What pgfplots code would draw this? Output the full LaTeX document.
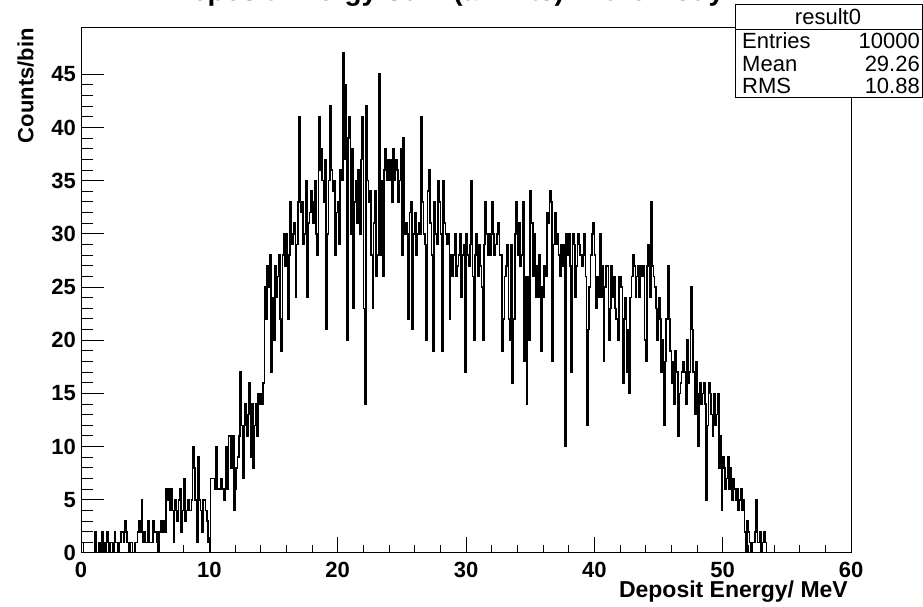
\documentclass[border=0pt]{standalone}
\usepackage{pgfplots}
\pgfplotsset{compat=1.18}
\usepackage{pgfplotstable}
\usepackage{fontspec}
\setmainfont{Liberation Sans}

% counts per 0.1 MeV bin, one line per MeV (0.0 ... 53.9), last entry closes the outline
\pgfplotstableread[row sep=\\, header=false]{
1\\ 1\\ 0\\ 0\\ 0\\ 0\\ 0\\ 0\\ 0\\ 0\\
0\\ 2\\ 0\\ 0\\ 1\\ 0\\ 2\\ 0\\ 1\\ 0\\
2\\ 1\\ 0\\ 1\\ 1\\ 0\\ 2\\ 1\\ 1\\ 0\\
1\\ 2\\ 2\\ 1\\ 3\\ 2\\ 1\\ 0\\ 1\\ 1\\
0\\ 0\\ 1\\ 1\\ 2\\ 3\\ 2\\ 5\\ 1\\ 2\\
1\\ 1\\ 3\\ 1\\ 1\\ 1\\ 3\\ 2\\ 2\\ 1\\
0\\ 2\\ 3\\ 2\\ 3\\ 2\\ 6\\ 5\\ 6\\ 4\\
6\\ 4\\ 1\\ 5\\ 4\\ 3\\ 5\\ 6\\ 2\\ 4\\
7\\ 3\\ 4\\ 5\\ 4\\ 4\\ 5\\ 10\\ 8\\ 5\\
1\\ 9\\ 5\\ 4\\ 2\\ 5\\ 5\\ 4\\ 3\\ 1\\
0\\ 7\\ 7\\ 7\\ 6\\ 10\\ 6\\ 6\\ 6\\ 7\\
6\\ 5\\ 6\\ 10\\ 6\\ 11\\ 11\\ 8\\ 11\\ 4\\
6\\ 8\\ 9\\ 11\\ 17\\ 12\\ 7\\ 12\\ 14\\ 11\\
13\\ 16\\ 9\\ 14\\ 8\\ 12\\ 14\\ 11\\ 15\\ 14\\
15\\ 14\\ 16\\ 25\\ 22\\ 27\\ 25\\ 28\\ 17\\ 24\\
20\\ 27\\ 24\\ 26\\ 28\\ 22\\ 19\\ 28\\ 30\\ 27\\
30\\ 22\\ 28\\ 33\\ 29\\ 30\\ 31\\ 24\\ 29\\ 33\\
41\\ 32\\ 33\\ 29\\ 30\\ 35\\ 24\\ 31\\ 32\\ 34\\
33\\ 31\\ 35\\ 30\\ 28\\ 41\\ 36\\ 38\\ 35\\ 33\\
37\\ 21\\ 30\\ 35\\ 42\\ 36\\ 34\\ 35\\ 28\\ 32\\
33\\ 29\\ 36\\ 35\\ 47\\ 37\\ 44\\ 20\\ 39\\ 41\\
30\\ 38\\ 23\\ 33\\ 35\\ 31\\ 36\\ 30\\ 37\\ 41\\
23\\ 14\\ 42\\ 35\\ 33\\ 34\\ 28\\ 23\\ 31\\ 34\\
26\\ 28\\ 45\\ 28\\ 35\\ 26\\ 36\\ 38\\ 35\\ 37\\
35\\ 37\\ 33\\ 38\\ 35\\ 37\\ 36\\ 33\\ 35\\ 38\\
28\\ 39\\ 30\\ 31\\ 30\\ 22\\ 32\\ 33\\ 21\\ 30\\
32\\ 28\\ 30\\ 31\\ 30\\ 41\\ 33\\ 30\\ 29\\ 20\\
34\\ 36\\ 31\\ 28\\ 19\\ 33\\ 30\\ 29\\ 35\\ 33\\
30\\ 19\\ 35\\ 31\\ 30\\ 29\\ 30\\ 22\\ 28\\ 26\\
28\\ 30\\ 26\\ 27\\ 28\\ 30\\ 24\\ 28\\ 29\\ 17\\
30\\ 28\\ 27\\ 29\\ 35\\ 26\\ 20\\ 28\\ 30\\ 26\\
29\\ 27\\ 25\\ 20\\ 29\\ 33\\ 30\\ 28\\ 30\\ 28\\
33\\ 30\\ 28\\ 29\\ 30\\ 31\\ 28\\ 28\\ 19\\ 22\\
26\\ 27\\ 29\\ 22\\ 20\\ 29\\ 16\\ 22\\ 30\\ 33\\
28\\ 31\\ 27\\ 28\\ 33\\ 18\\ 26\\ 14\\ 26\\ 20\\
34\\ 31\\ 26\\ 30\\ 24\\ 27\\ 24\\ 28\\ 19\\ 25\\
24\\ 27\\ 26\\ 32\\ 31\\ 34\\ 33\\ 18\\ 29\\ 32\\
29\\ 30\\ 28\\ 26\\ 29\\ 27\\ 29\\ 10\\ 30\\ 28\\
30\\ 27\\ 17\\ 30\\ 29\\ 24\\ 27\\ 30\\ 29\\ 28\\
27\\ 28\\ 30\\ 26\\ 12\\ 21\\ 25\\ 28\\ 30\\ 31\\
28\\ 23\\ 26\\ 24\\ 30\\ 24\\ 27\\ 18\\ 25\\ 27\\
27\\ 20\\ 23\\ 27\\ 24\\ 26\\ 23\\ 22\\ 20\\ 26\\
26\\ 25\\ 16\\ 22\\ 24\\ 17\\ 21\\ 15\\ 24\\ 26\\
28\\ 27\\ 24\\ 26\\ 27\\ 24\\ 27\\ 26\\ 27\\ 20\\
18\\ 27\\ 29\\ 24\\ 33\\ 27\\ 26\\ 25\\ 23\\ 20\\
24\\ 22\\ 17\\ 20\\ 12\\ 18\\ 22\\ 27\\ 22\\ 19\\
16\\ 18\\ 14\\ 19\\ 17\\ 11\\ 15\\ 16\\ 17\\ 18\\
17\\ 14\\ 20\\ 16\\ 17\\ 25\\ 21\\ 17\\ 13\\ 18\\
15\\ 10\\ 16\\ 14\\ 15\\ 16\\ 14\\ 5\\ 12\\ 16\\
15\\ 13\\ 11\\ 15\\ 12\\ 13\\ 15\\ 8\\ 11\\ 4\\
9\\ 8\\ 6\\ 7\\ 9\\ 6\\ 8\\ 5\\ 7\\ 6\\
5\\ 6\\ 4\\ 5\\ 6\\ 4\\ 5\\ 2\\ 0\\ 3\\
2\\ 1\\ 0\\ 1\\ 1\\ 2\\ 5\\ 1\\ 1\\ 2\\
0\\ 1\\ 2\\ 1\\ 0\\ 0\\ 0\\ 0\\ 0\\ 0\\
0\\
}\counts

\begin{document}
\begin{tikzpicture}
\useasboundingbox (0pt,0pt) rectangle (923pt,607pt);
\begin{axis}[
    at={(81pt,54pt)}, anchor=south west,
    width=770pt, height=525pt, scale only axis,
    xmin=0, xmax=60, ymin=0, ymax=49.35,
    xtick={0,10,...,60}, minor x tick num=4,
    ytick={0,5,...,45}, minor y tick num=4,
    tick align=inside, tick pos=left,
    major tick length=23pt, minor tick length=11.5pt,
    xtick style={/pgfplots/major tick length=15.75pt, /pgfplots/minor tick length=7.9pt},
    tick style={black, line width=1pt},
    axis line style={line width=1pt},
    /pgf/number format/assume math mode=true,
    tick label style={font=\bfseries\fontsize{22}{22}\selectfont},
    yticklabel style={inner sep=0pt, xshift=-5pt},
    xticklabel style={inner sep=0pt, yshift=-9pt},
]
\addplot[const plot mark left, black, line width=1.6pt]
    table[x expr=\coordindex*0.1, y index=0] {\counts};
\end{axis}

% title, mostly above the top edge of the page
\begin{pgfinterruptboundingbox}
\node[anchor=base, inner sep=0pt, font=\bfseries\fontsize{28}{28}\selectfont]
    at (448pt,606.5pt) {Deposit Energy Sum (all Hits) in the Body};
\end{pgfinterruptboundingbox}

% axis titles
\node[anchor=base east, inner sep=0pt, font=\bfseries\fontsize{23}{23}\selectfont]
    at (848pt,9pt) {Deposit Energy/ MeV};
\node[rotate=90, anchor=south east, inner sep=0pt, font=\bfseries\fontsize{22}{22}\selectfont]
    at (34pt,579pt) {Counts/bin};

% statistics box
\draw[line width=1pt, fill=white] (735pt,602pt) rectangle (922pt,509pt);
\draw[line width=1pt] (735pt,577pt) -- (922pt,577pt);
\begin{scope}[every node/.style={inner sep=0pt, font=\fontsize{22}{22}\selectfont}]
\node[anchor=base] at (828pt,582pt) {result0};
\node[anchor=base west] at (742pt,558pt) {Entries};
\node[anchor=base east] at (920pt,558pt) {10000};
\node[anchor=base west] at (742pt,535pt) {Mean};
\node[anchor=base east] at (920pt,535pt) {29.26};
\node[anchor=base west] at (742pt,513pt) {RMS};
\node[anchor=base east] at (920pt,513pt) {10.88};
\end{scope}
\end{tikzpicture}
\end{document}
